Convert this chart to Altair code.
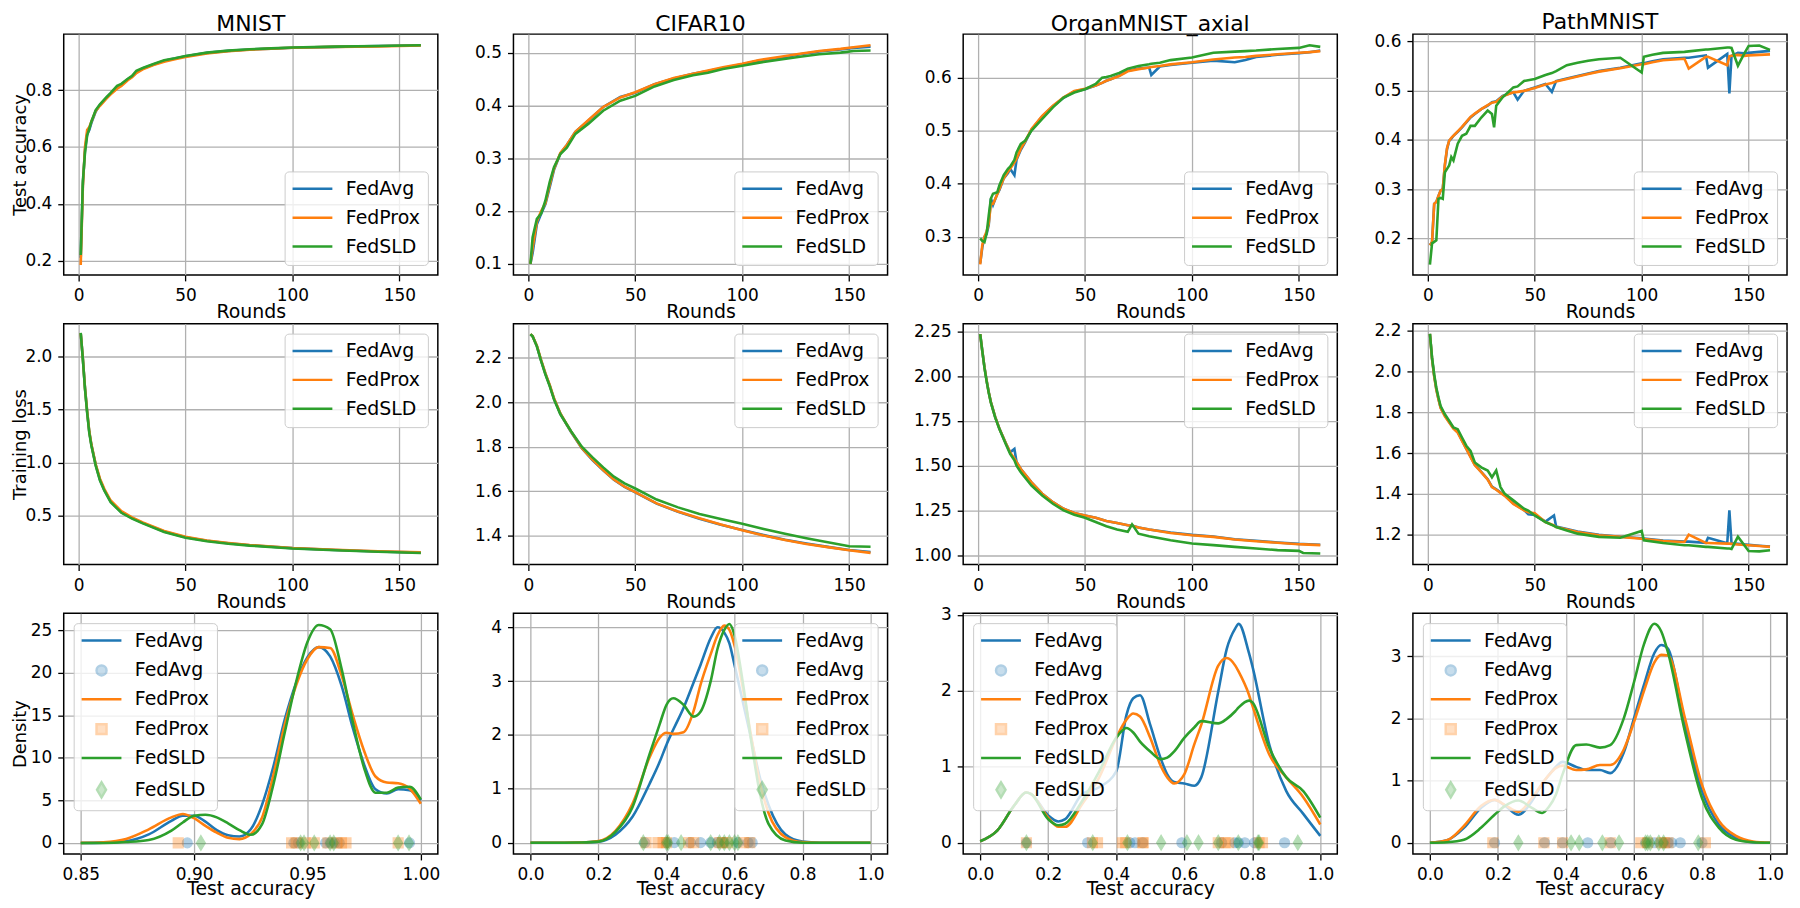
import altair as alt
import pandas as pd

FONT = "DejaVu Sans"
METHODS = ["FedAvg", "FedProx", "FedSLD"]
COLORS = ["#1f77b4", "#ff7f0e", "#2ca02c"]
DATASETS = ["MNIST", "CIFAR10", "OrganMNIST_axial", "PathMNIST"]

LINE_SYMBOL = "M-2.5,0L2.5,0"
KDE_KEYS = ["FedAvg", "FedAvg|rug", "FedProx", "FedProx|rug", "FedSLD", "FedSLD|rug"]
KDE_COLORS = ["#1f77b4", "#1f77b4", "#ff7f0e", "#ff7f0e", "#2ca02c", "#2ca02c"]
KDE_SHAPES = [LINE_SYMBOL, "circle", LINE_SYMBOL, "square", LINE_SYMBOL, "M0,-1L0.6,0L0,1L-0.6,0Z"]
KDE_OPACITY = [1, 0.35, 1, 0.35, 1, 0.35]
KDE_SIZES = [256, 100, 256, 100, 256, 225]

# ---------------- Test accuracy vs rounds ----------------
MNIST_ACC_ROUNDS = [1, 2, 3, 4, 5, 6, 8, 10, 13, 15, 18, 20, 23, 25, 27, 30, 35, 40, 45, 50, 60, 70, 80, 90, 100, 120, 140, 160]
MNIST_ACC_AVG = [0.21, 0.47, 0.59, 0.645, 0.66, 0.685, 0.725, 0.748, 0.772, 0.788, 0.81, 0.82, 0.838, 0.848, 0.862, 0.876, 0.89, 0.903, 0.911, 0.919, 0.931, 0.938, 0.943, 0.946, 0.949, 0.952, 0.955, 0.958]
MNIST_ACC_PROX = [0.185, 0.46, 0.60, 0.66, 0.67, 0.69, 0.727, 0.745, 0.77, 0.785, 0.805, 0.815, 0.835, 0.845, 0.86, 0.873, 0.888, 0.90, 0.909, 0.917, 0.929, 0.937, 0.942, 0.946, 0.949, 0.952, 0.954, 0.957]
MNIST_ACC_SLD = [0.22, 0.48, 0.58, 0.64, 0.665, 0.69, 0.73, 0.75, 0.775, 0.79, 0.815, 0.822, 0.84, 0.85, 0.868, 0.878, 0.892, 0.905, 0.912, 0.92, 0.932, 0.939, 0.944, 0.947, 0.95, 0.953, 0.955, 0.958]

CIFAR_ACC_ROUNDS = [1, 2, 4, 6, 8, 10, 12, 15, 18, 22, 28, 35, 43, 50, 59, 68, 77, 84, 91, 100, 108, 118, 127, 136, 146, 152, 160]
CIFAR_ACC_AVG = [0.10, 0.12, 0.175, 0.195, 0.213, 0.245, 0.278, 0.309, 0.325, 0.35, 0.371, 0.397, 0.416, 0.424, 0.44, 0.451, 0.46, 0.465, 0.471, 0.478, 0.485, 0.49, 0.497, 0.502, 0.506, 0.509, 0.511]
CIFAR_ACC_PROX = [0.10, 0.13, 0.18, 0.20, 0.215, 0.25, 0.28, 0.31, 0.325, 0.35, 0.372, 0.397, 0.415, 0.425, 0.44, 0.452, 0.46, 0.466, 0.472, 0.479, 0.486, 0.492, 0.498, 0.503, 0.507, 0.51, 0.514]
CIFAR_ACC_SLD = [0.10, 0.15, 0.185, 0.195, 0.22, 0.255, 0.283, 0.308, 0.32, 0.346, 0.365, 0.39, 0.409, 0.418, 0.436, 0.448, 0.457, 0.462, 0.469, 0.475, 0.481, 0.487, 0.492, 0.497, 0.50, 0.503, 0.504]

ORGAN_ACC_ROUNDS = [1, 2, 3, 4, 5, 6, 7, 9, 10, 12, 14, 15, 17, 18, 20, 22, 25, 30, 35, 40, 45, 50, 55, 58, 60, 62, 66, 70, 75, 80, 81, 85, 90, 100, 110, 120, 125, 130, 140, 150, 155, 160]
ORGAN_ACC_AVG = [0.25, 0.28, 0.30, 0.305, 0.322, 0.372, 0.36, 0.381, 0.388, 0.41, 0.42, 0.428, 0.416, 0.445, 0.464, 0.478, 0.502, 0.527, 0.546, 0.562, 0.574, 0.578, 0.585, 0.59, 0.594, 0.597, 0.604, 0.613, 0.617, 0.619, 0.605, 0.621, 0.624, 0.628, 0.632, 0.629, 0.633, 0.639, 0.643, 0.646, 0.648, 0.651]
ORGAN_ACC_PROX = [0.248, 0.285, 0.30, 0.31, 0.325, 0.362, 0.362, 0.38, 0.39, 0.41, 0.423, 0.428, 0.44, 0.447, 0.466, 0.48, 0.503, 0.528, 0.547, 0.563, 0.575, 0.579, 0.585, 0.59, 0.594, 0.597, 0.603, 0.612, 0.616, 0.619, 0.62, 0.622, 0.625, 0.629, 0.634, 0.638, 0.639, 0.641, 0.644, 0.647, 0.648, 0.65]
ORGAN_ACC_SLD = [0.297, 0.292, 0.29, 0.306, 0.34, 0.372, 0.381, 0.384, 0.397, 0.416, 0.428, 0.432, 0.445, 0.459, 0.475, 0.481, 0.50, 0.522, 0.544, 0.5625, 0.572, 0.578, 0.588, 0.60, 0.601, 0.603, 0.609, 0.617, 0.622, 0.625, 0.626, 0.628, 0.633, 0.638, 0.647, 0.649, 0.65, 0.651, 0.654, 0.656, 0.661, 0.658]

PATH_ACC_ROUNDS = [1, 2, 3, 4, 5, 6, 7, 8, 9, 10, 11, 12, 14, 16, 18, 20, 22, 25, 28, 30, 31, 32, 35, 40, 42, 45, 50, 55, 58, 60, 65, 70, 75, 80, 90, 100, 101, 105, 110, 120, 122, 130, 131, 140, 141, 142, 145, 148, 150, 155, 160]
PATH_ACC_AVG = [0.186, 0.193, 0.27, 0.274, 0.286, 0.297, 0.30, 0.348, 0.381, 0.398, 0.402, 0.408, 0.416, 0.425, 0.435, 0.445, 0.452, 0.462, 0.469, 0.476, 0.477, 0.478, 0.489, 0.496, 0.481, 0.499, 0.506, 0.513, 0.497, 0.519, 0.524, 0.529, 0.534, 0.539, 0.546, 0.555, 0.555, 0.559, 0.563, 0.566, 0.566, 0.571, 0.546, 0.574, 0.494, 0.57, 0.576, 0.575, 0.576, 0.578, 0.58]
PATH_ACC_PROX = [0.186, 0.193, 0.27, 0.274, 0.286, 0.297, 0.30, 0.35, 0.383, 0.398, 0.404, 0.408, 0.417, 0.426, 0.436, 0.446, 0.453, 0.462, 0.47, 0.475, 0.476, 0.477, 0.488, 0.496, 0.497, 0.499, 0.505, 0.512, 0.515, 0.518, 0.523, 0.528, 0.533, 0.538, 0.545, 0.553, 0.553, 0.557, 0.561, 0.564, 0.544, 0.568, 0.568, 0.551, 0.569, 0.57, 0.572, 0.57, 0.571, 0.572, 0.573]
PATH_ACC_SLD = [0.147, 0.19, 0.193, 0.196, 0.28, 0.282, 0.28, 0.334, 0.341, 0.348, 0.365, 0.358, 0.392, 0.408, 0.412, 0.428, 0.428, 0.445, 0.459, 0.452, 0.425, 0.469, 0.486, 0.506, 0.508, 0.519, 0.523, 0.531, 0.535, 0.539, 0.551, 0.556, 0.56, 0.563, 0.566, 0.536, 0.568, 0.572, 0.576, 0.578, 0.579, 0.583, 0.583, 0.587, 0.587, 0.586, 0.55, 0.575, 0.59, 0.591, 0.582]

# ---------------- Training loss vs rounds ----------------
MNIST_LOSS_ROUNDS = [1, 2, 3, 4, 5, 6, 8, 10, 12, 15, 20, 25, 30, 40, 50, 60, 70, 80, 100, 120, 140, 160]
MNIST_LOSS_AVG = [2.215, 1.975, 1.70, 1.48, 1.29, 1.165, 0.98, 0.84, 0.745, 0.635, 0.535, 0.48, 0.435, 0.355, 0.30, 0.267, 0.244, 0.226, 0.198, 0.181, 0.167, 0.156]
MNIST_LOSS_PROX = [2.215, 1.98, 1.70, 1.485, 1.295, 1.17, 0.985, 0.85, 0.755, 0.645, 0.545, 0.487, 0.44, 0.36, 0.305, 0.27, 0.247, 0.228, 0.20, 0.183, 0.169, 0.158]
MNIST_LOSS_SLD = [2.218, 1.97, 1.69, 1.47, 1.28, 1.16, 0.973, 0.833, 0.74, 0.63, 0.53, 0.475, 0.43, 0.35, 0.295, 0.262, 0.24, 0.222, 0.195, 0.178, 0.164, 0.152]

CIFAR_LOSS_ROUNDS = [1, 2, 4, 6, 8, 10, 12, 15, 18, 20, 25, 30, 35, 40, 45, 50, 60, 70, 80, 90, 100, 110, 120, 130, 140, 150, 160]
CIFAR_LOSS_AVG = [2.306, 2.297, 2.253, 2.188, 2.128, 2.076, 2.016, 1.948, 1.898, 1.866, 1.793, 1.74, 1.694, 1.651, 1.619, 1.595, 1.544, 1.507, 1.476, 1.449, 1.425, 1.402, 1.381, 1.364, 1.349, 1.335, 1.326]
CIFAR_LOSS_PROX = [2.307, 2.298, 2.255, 2.19, 2.13, 2.078, 2.018, 1.95, 1.90, 1.868, 1.795, 1.742, 1.695, 1.652, 1.62, 1.596, 1.545, 1.508, 1.478, 1.45, 1.424, 1.40, 1.38, 1.362, 1.348, 1.334, 1.322]
CIFAR_LOSS_SLD = [2.307, 2.297, 2.252, 2.185, 2.125, 2.073, 2.013, 1.946, 1.90, 1.87, 1.80, 1.752, 1.707, 1.665, 1.635, 1.612, 1.562, 1.527, 1.497, 1.475, 1.453, 1.43, 1.408, 1.388, 1.37, 1.352, 1.35]

ORGAN_LOSS_ROUNDS = [1, 2, 3, 4, 5, 6, 8, 10, 13, 15, 17, 18, 20, 25, 30, 35, 40, 45, 50, 55, 60, 65, 70, 72, 75, 80, 90, 100, 110, 120, 130, 140, 150, 152, 160]
ORGAN_LOSS_AVG = [2.235, 2.14, 2.05, 1.975, 1.91, 1.855, 1.772, 1.706, 1.625, 1.574, 1.593, 1.52, 1.481, 1.407, 1.343, 1.296, 1.259, 1.235, 1.222, 1.209, 1.191, 1.18, 1.167, 1.165, 1.154, 1.143, 1.126, 1.113, 1.104, 1.089, 1.08, 1.071, 1.063, 1.062, 1.058]
ORGAN_LOSS_PROX = [2.235, 2.14, 2.05, 1.975, 1.91, 1.855, 1.772, 1.706, 1.625, 1.574, 1.54, 1.52, 1.481, 1.407, 1.343, 1.296, 1.259, 1.235, 1.222, 1.209, 1.191, 1.18, 1.167, 1.164, 1.154, 1.143, 1.124, 1.111, 1.102, 1.087, 1.078, 1.069, 1.061, 1.06, 1.056]
ORGAN_LOSS_SLD = [2.235, 2.139, 2.046, 1.972, 1.907, 1.852, 1.769, 1.704, 1.62, 1.565, 1.53, 1.50, 1.463, 1.389, 1.333, 1.287, 1.25, 1.226, 1.209, 1.185, 1.161, 1.143, 1.13, 1.172, 1.12, 1.106, 1.083, 1.065, 1.056, 1.046, 1.037, 1.028, 1.024, 1.012, 1.009]

PATH_LOSS_ROUNDS = [1, 2, 3, 4, 5, 6, 8, 10, 12, 14, 16, 18, 20, 22, 25, 28, 30, 32, 34, 36, 40, 45, 47, 50, 55, 59, 60, 65, 70, 80, 90, 100, 101, 110, 120, 122, 130, 131, 140, 141, 142, 145, 150, 155, 160]
PATH_LOSS_AVG = [2.184, 2.062, 1.978, 1.912, 1.865, 1.823, 1.783, 1.752, 1.722, 1.702, 1.662, 1.622, 1.582, 1.542, 1.508, 1.472, 1.435, 1.422, 1.407, 1.392, 1.353, 1.321, 1.30, 1.296, 1.264, 1.294, 1.24, 1.228, 1.215, 1.199, 1.19, 1.182, 1.181, 1.171, 1.166, 1.166, 1.16, 1.185, 1.158, 1.319, 1.158, 1.155, 1.15, 1.146, 1.142]
PATH_LOSS_PROX = [2.184, 2.06, 1.975, 1.91, 1.862, 1.82, 1.78, 1.75, 1.72, 1.70, 1.66, 1.62, 1.58, 1.54, 1.506, 1.47, 1.433, 1.42, 1.405, 1.39, 1.351, 1.319, 1.31, 1.305, 1.262, 1.245, 1.237, 1.225, 1.213, 1.197, 1.189, 1.18, 1.179, 1.169, 1.164, 1.20, 1.159, 1.159, 1.156, 1.156, 1.155, 1.152, 1.148, 1.144, 1.14]
PATH_LOSS_SLD = [2.184, 2.067, 1.985, 1.92, 1.872, 1.83, 1.79, 1.758, 1.725, 1.717, 1.676, 1.636, 1.61, 1.554, 1.53, 1.514, 1.481, 1.514, 1.433, 1.40, 1.368, 1.327, 1.318, 1.294, 1.262, 1.243, 1.237, 1.22, 1.205, 1.189, 1.185, 1.218, 1.172, 1.159, 1.148, 1.148, 1.14, 1.14, 1.132, 1.132, 1.13, 1.19, 1.12, 1.118, 1.124]

# ---------------- Density of client test accuracy ----------------
MNIST_KDE_X = [0.85, 0.86, 0.87, 0.88, 0.89, 0.895, 0.90, 0.905, 0.91, 0.915, 0.92, 0.925, 0.93, 0.935, 0.94, 0.945, 0.95, 0.955, 0.96, 0.965, 0.97, 0.975, 0.98, 0.985, 0.99, 0.995, 1.0]
MNIST_KDE_AVG = [0, 0.03, 0.2, 1.0, 2.6, 3.2, 3.2, 2.5, 1.5, 0.9, 0.75, 1.6, 4.5, 9.0, 14.5, 18.8, 21.8, 23.0, 21.9, 18.5, 13.5, 9.2, 6.3, 5.8, 6.3, 6.2, 5.0]
MNIST_KDE_PROX = [0, 0.08, 0.47, 1.6, 3.0, 3.4, 2.9, 2.0, 1.2, 0.6, 0.45, 1.05, 3.0, 8.0, 13.9, 18.5, 21.6, 23.0, 22.9, 19.7, 15.0, 10.8, 7.8, 7.1, 7.0, 6.4, 4.6]
MNIST_KDE_SLD = [0, 0.0, 0.1, 0.35, 1.45, 2.4, 3.2, 3.3, 3.0, 2.3, 1.5, 0.95, 2.2, 6.9, 13.0, 18.9, 23.6, 25.6, 25.1, 20.5, 14.2, 8.8, 5.9, 5.9, 6.5, 6.6, 5.1]
MNIST_RUG_AVG = [0.897, 0.944, 0.946, 0.958, 0.960, 0.962, 0.964, 0.995]
MNIST_RUG_PROX = [0.893, 0.943, 0.945, 0.949, 0.953, 0.959, 0.963, 0.965, 0.967, 0.990]
MNIST_RUG_SLD = [0.903, 0.947, 0.9485, 0.953, 0.960, 0.9616, 0.990, 0.9948]

CIFAR_KDE_X = [0, 0.1, 0.15, 0.2, 0.25, 0.3, 0.35, 0.38, 0.4, 0.42, 0.45, 0.48, 0.5, 0.53, 0.55, 0.57, 0.585, 0.6, 0.625, 0.65, 0.675, 0.7, 0.75, 0.8, 0.85, 0.9, 1.0]
CIFAR_KDE_AVG = [0, 0, 0.003, 0.02, 0.15, 0.48, 1.09, 1.5, 1.82, 2.1, 2.5, 2.98, 3.3, 3.8, 4.0, 3.9, 3.7, 3.3, 2.6, 1.9, 1.2, 0.7, 0.15, 0.02, 0, 0, 0]
CIFAR_KDE_PROX = [0, 0, 0.003, 0.03, 0.22, 0.72, 1.58, 1.95, 2.04, 2.02, 2.05, 2.45, 2.93, 3.5, 3.85, 4.03, 3.95, 3.66, 2.85, 1.94, 1.1, 0.55, 0.1, 0.01, 0, 0, 0]
CIFAR_KDE_SLD = [0, 0, 0.003, 0.02, 0.2, 0.66, 1.64, 2.2, 2.56, 2.68, 2.56, 2.34, 2.43, 3.0, 3.6, 3.95, 4.06, 3.85, 2.95, 1.85, 0.9, 0.35, 0.04, 0, 0, 0, 0]
CIFAR_RUG_AVG = [0.336, 0.40, 0.423, 0.47, 0.50, 0.53, 0.55, 0.57, 0.61, 0.64, 0.652]
CIFAR_RUG_PROX = [0.34, 0.375, 0.39, 0.40, 0.465, 0.48, 0.555, 0.565, 0.58, 0.627, 0.645]
CIFAR_RUG_SLD = [0.332, 0.40, 0.405, 0.443, 0.53, 0.556, 0.57, 0.585, 0.60, 0.61]

ORGAN_KDE_X = [0, 0.05, 0.1, 0.135, 0.15, 0.2, 0.23, 0.25, 0.3, 0.35, 0.4, 0.43, 0.45, 0.47, 0.5, 0.53, 0.55, 0.57, 0.6, 0.63, 0.65, 0.7, 0.725, 0.75, 0.76, 0.79, 0.8, 0.85, 0.9, 0.95, 1.0]
ORGAN_KDE_AVG = [0.02, 0.16, 0.49, 0.66, 0.64, 0.36, 0.28, 0.31, 0.64, 0.73, 0.94, 1.68, 1.9, 1.94, 1.55, 1.12, 0.9, 0.8, 0.78, 0.75, 0.86, 1.99, 2.55, 2.82, 2.88, 2.5, 2.33, 1.29, 0.68, 0.38, 0.09]
ORGAN_KDE_PROX = [0.02, 0.16, 0.49, 0.66, 0.64, 0.33, 0.21, 0.21, 0.51, 0.86, 1.38, 1.62, 1.7, 1.66, 1.38, 1.02, 0.86, 0.78, 0.9, 1.3, 1.55, 2.33, 2.43, 2.33, 2.25, 1.95, 1.81, 1.16, 0.86, 0.6, 0.24]
ORGAN_KDE_SLD = [0.02, 0.16, 0.49, 0.66, 0.64, 0.31, 0.23, 0.25, 0.55, 0.94, 1.38, 1.51, 1.45, 1.33, 1.2, 1.1, 1.12, 1.2, 1.38, 1.52, 1.6, 1.57, 1.63, 1.73, 1.78, 1.87, 1.85, 1.25, 0.86, 0.68, 0.33]
ORGAN_RUG_AVG = [0.136, 0.316, 0.44, 0.455, 0.478, 0.593, 0.71, 0.749, 0.759, 0.778, 0.807, 0.895]
ORGAN_RUG_PROX = [0.136, 0.33, 0.345, 0.418, 0.428, 0.477, 0.48, 0.70, 0.72, 0.73, 0.82, 0.83]
ORGAN_RUG_SLD = [0.136, 0.331, 0.433, 0.532, 0.608, 0.642, 0.70, 0.759, 0.817, 0.82, 0.934]

PATH_KDE_X = [0, 0.05, 0.1, 0.15, 0.19, 0.22, 0.26, 0.3, 0.33, 0.35, 0.37, 0.39, 0.43, 0.46, 0.5, 0.53, 0.57, 0.6, 0.63, 0.66, 0.68, 0.7, 0.75, 0.8, 0.85, 0.9, 0.95, 1.0]
PATH_KDE_AVG = [0, 0.04, 0.24, 0.56, 0.69, 0.6, 0.45, 0.67, 0.95, 1.09, 1.22, 1.3, 1.22, 1.17, 1.17, 1.12, 1.45, 2.0, 2.55, 3.05, 3.18, 3.12, 1.89, 0.83, 0.29, 0.08, 0.01, 0]
PATH_KDE_PROX = [0, 0.04, 0.27, 0.59, 0.69, 0.61, 0.5, 0.72, 0.95, 1.09, 1.2, 1.24, 1.17, 1.18, 1.25, 1.25, 1.5, 1.94, 2.45, 2.9, 3.02, 3.01, 2.0, 0.93, 0.35, 0.11, 0.02, 0]
PATH_KDE_SLD = [0, 0.01, 0.05, 0.24, 0.45, 0.59, 0.68, 0.56, 0.48, 0.58, 0.77, 1.1, 1.57, 1.58, 1.53, 1.57, 2.0, 2.58, 3.2, 3.52, 3.4, 3.06, 1.78, 0.72, 0.24, 0.05, 0.01, 0]
PATH_RUG_AVG = [0.19, 0.337, 0.39, 0.464, 0.532, 0.634, 0.66, 0.687, 0.70, 0.711, 0.736, 0.80]
PATH_RUG_PROX = [0.185, 0.335, 0.39, 0.53, 0.62, 0.64, 0.68, 0.69, 0.70, 0.81]
PATH_RUG_SLD = [0.26, 0.415, 0.439, 0.507, 0.556, 0.634, 0.64, 0.648, 0.673, 0.687, 0.789]

# ---------------- layout ----------------
W, H = 376, 242
ROUND_DOMAIN = [-6.95, 167.95]
LINE_W = 2.6
LEGEND_STYLE = dict(title=None, fillColor="rgba(255,255,255,0.8)", strokeColor="#cccccc",
                    cornerRadius=4, zindex=2)


def long_df(xs, series, keys):
    rows = []
    for k, ys in zip(keys, series):
        for x, y in zip(xs, ys):
            rows.append({"x": x, "y": y, "key": k})
    return pd.DataFrame(rows)


def x_axis(title, values, fmt, title_y=43):
    return alt.Axis(title=title, values=values, format=fmt, titleY=title_y, labelPadding=7,
                    titleBaseline="alphabetic", labelFlush=False, labelOverlap=False)


def y_axis(title, values, fmt, title_x=-38):
    if title:
        return alt.Axis(title=title, values=values, format=fmt, titleX=title_x, titleFontSize=18,
                        titleBaseline="alphabetic", labelPadding=6, labelFlush=False, labelOverlap=False)
    return alt.Axis(title=None, values=values, format=fmt, labelPadding=6,
                    labelFlush=False, labelOverlap=False)


def panel_title(text):
    return alt.TitleParams(text=text, offset=-2, frame="group",
                           fontSize=22, font=FONT, fontWeight="normal", color="black")


def curve_panel(rounds, series, ydom, yvals, yfmt, orient, title=None, ytitle=None):
    df = long_df(rounds, series, METHODS)
    ch = alt.Chart(df).mark_line(strokeWidth=LINE_W, clip=True).encode(
        x=alt.X("x:Q", scale=alt.Scale(domain=ROUND_DOMAIN, nice=False, zero=False),
                axis=x_axis("Rounds", [0, 50, 100, 150], "d")),
        y=alt.Y("y:Q", scale=alt.Scale(domain=ydom, nice=False, zero=False),
                axis=y_axis(ytitle, yvals, yfmt)),
        color=alt.Color("key:N", scale=alt.Scale(domain=METHODS, range=COLORS),
                        legend=alt.Legend(orient=orient, symbolType=LINE_SYMBOL, **LEGEND_STYLE)),
    ).properties(width=W, height=H)
    if title:
        ch = ch.properties(title=panel_title(title))
    return ch


def kde_panel(grid, curves, rugs, xdom, xvals, xfmt, ydom, yvals, orient, ytitle=None):
    ldf = long_df(grid, curves, METHODS)
    rrows = []
    for m, vals in zip(METHODS, rugs):
        for v in vals:
            rrows.append({"x": v, "y": 0, "key": m + "|rug"})
    rdf = pd.DataFrame(rrows)
    xenc = alt.X("x:Q", scale=alt.Scale(domain=xdom, nice=False, zero=False),
                 axis=x_axis("Test accuracy", xvals, xfmt, 41))
    yenc = alt.Y("y:Q", scale=alt.Scale(domain=ydom, nice=False, zero=False),
                 axis=y_axis(ytitle, yvals, "d"))
    lines = alt.Chart(ldf).mark_line(strokeWidth=LINE_W, interpolate="monotone", clip=True).encode(
        x=xenc, y=yenc,
        color=alt.Color("key:N", scale=alt.Scale(domain=METHODS, range=COLORS), legend=None),
    )
    leg = alt.Legend(orient=orient, labelExpr="split(datum.label, '|')[0]", **LEGEND_STYLE)
    rug = alt.Chart(rdf).mark_point(filled=True, strokeWidth=1.2).encode(
        x=xenc, y=yenc,
        fill=alt.Fill("key:N", scale=alt.Scale(domain=KDE_KEYS, range=KDE_COLORS), legend=leg),
        stroke=alt.Stroke("key:N", scale=alt.Scale(domain=KDE_KEYS, range=KDE_COLORS), legend=leg),
        shape=alt.Shape("key:N", scale=alt.Scale(domain=KDE_KEYS, range=KDE_SHAPES), legend=leg),
        opacity=alt.Opacity("key:N", scale=alt.Scale(type="ordinal", domain=KDE_KEYS, range=KDE_OPACITY), legend=leg),
        size=alt.Size("key:N", scale=alt.Scale(type="ordinal", domain=KDE_KEYS, range=KDE_SIZES), legend=leg),
    )
    return alt.layer(lines, rug).properties(width=W, height=H)


panels = [
    curve_panel(MNIST_ACC_ROUNDS, [MNIST_ACC_AVG, MNIST_ACC_PROX, MNIST_ACC_SLD], [0.15, 0.997],
                [0.2, 0.4, 0.6, 0.8], ".1f", "bottom-right", DATASETS[0], "Test accuracy"),
    curve_panel(CIFAR_ACC_ROUNDS, [CIFAR_ACC_AVG, CIFAR_ACC_PROX, CIFAR_ACC_SLD], [0.079, 0.535],
                [0.1, 0.2, 0.3, 0.4, 0.5], ".1f", "bottom-right", DATASETS[1]),
    curve_panel(ORGAN_ACC_ROUNDS, [ORGAN_ACC_AVG, ORGAN_ACC_PROX, ORGAN_ACC_SLD], [0.228, 0.682],
                [0.3, 0.4, 0.5, 0.6], ".1f", "bottom-right", DATASETS[2]),
    curve_panel(PATH_ACC_ROUNDS, [PATH_ACC_AVG, PATH_ACC_PROX, PATH_ACC_SLD], [0.126, 0.614],
                [0.2, 0.3, 0.4, 0.5, 0.6], ".1f", "bottom-right", DATASETS[3]),
    curve_panel(MNIST_LOSS_ROUNDS, [MNIST_LOSS_AVG, MNIST_LOSS_PROX, MNIST_LOSS_SLD], [0.045, 2.305],
                [0.5, 1.0, 1.5, 2.0], ".1f", "top-right", None, "Training loss"),
    curve_panel(CIFAR_LOSS_ROUNDS, [CIFAR_LOSS_AVG, CIFAR_LOSS_PROX, CIFAR_LOSS_SLD], [1.27, 2.354],
                [1.4, 1.6, 1.8, 2.0, 2.2], ".1f", "top-right"),
    curve_panel(ORGAN_LOSS_ROUNDS, [ORGAN_LOSS_AVG, ORGAN_LOSS_PROX, ORGAN_LOSS_SLD], [0.948, 2.293],
                [1.0, 1.25, 1.5, 1.75, 2.0, 2.25], ".2f", "top-right"),
    curve_panel(PATH_LOSS_ROUNDS, [PATH_LOSS_AVG, PATH_LOSS_PROX, PATH_LOSS_SLD], [1.054, 2.234],
                [1.2, 1.4, 1.6, 1.8, 2.0, 2.2], ".1f", "top-right"),
    kde_panel(MNIST_KDE_X, [MNIST_KDE_AVG, MNIST_KDE_PROX, MNIST_KDE_SLD],
              [MNIST_RUG_AVG, MNIST_RUG_PROX, MNIST_RUG_SLD], [0.8425, 1.0075], [0.85, 0.90, 0.95, 1.00], ".2f",
              [-1.3, 26.98], [0, 5, 10, 15, 20, 25], "top-left", "Density"),
    kde_panel(CIFAR_KDE_X, [CIFAR_KDE_AVG, CIFAR_KDE_PROX, CIFAR_KDE_SLD],
              [CIFAR_RUG_AVG, CIFAR_RUG_PROX, CIFAR_RUG_SLD], [-0.05, 1.05], [0, 0.2, 0.4, 0.6, 0.8, 1.0], ".1f",
              [-0.21, 4.26], [0, 1, 2, 3, 4], "top-right"),
    kde_panel(ORGAN_KDE_X, [ORGAN_KDE_AVG, ORGAN_KDE_PROX, ORGAN_KDE_SLD],
              [ORGAN_RUG_AVG, ORGAN_RUG_PROX, ORGAN_RUG_SLD], [-0.05, 1.05], [0, 0.2, 0.4, 0.6, 0.8, 1.0], ".1f",
              [-0.148, 3.02], [0, 1, 2, 3], "top-left"),
    kde_panel(PATH_KDE_X, [PATH_KDE_AVG, PATH_KDE_PROX, PATH_KDE_SLD],
              [PATH_RUG_AVG, PATH_RUG_PROX, PATH_RUG_SLD], [-0.05, 1.05], [0, 0.2, 0.4, 0.6, 0.8, 1.0], ".1f",
              [-0.18, 3.69], [0, 1, 2, 3], "top-left"),
]

chan = dict(color="independent", fill="independent", stroke="independent", shape="independent",
            opacity="independent", size="independent")

chart = alt.concat(
    *panels, columns=4, spacing={"row": 49, "column": 76}, bounds="flush"
).resolve_scale(**chan).resolve_legend(**chan).properties(
    padding={"left": 3, "top": 0, "right": 4, "bottom": 0}
).configure(font=FONT).configure_axis(
    labelFont=FONT, titleFont=FONT, labelFontSize=17, titleFontSize=19, titleFontWeight="normal",
    labelColor="black", titleColor="black", grid=True, gridColor="#b0b0b0", gridWidth=1.3, gridOpacity=1,
    domain=False, ticks=True, tickColor="black", tickWidth=1.3, tickSize=6,
).configure_view(stroke="black", strokeWidth=1.5).configure_legend(
    labelFont=FONT, labelFontSize=19, labelColor="black", padding=8, rowPadding=9,
    symbolStrokeWidth=2.5, symbolSize=256, labelOffset=24, symbolOffset=10.5,
    fillColor="rgba(255,255,255,0.8)", strokeColor="#cccccc", cornerRadius=4, offset=10,
)

chart.save("out.html", embed_options={"renderer": "svg", "actions": False})
